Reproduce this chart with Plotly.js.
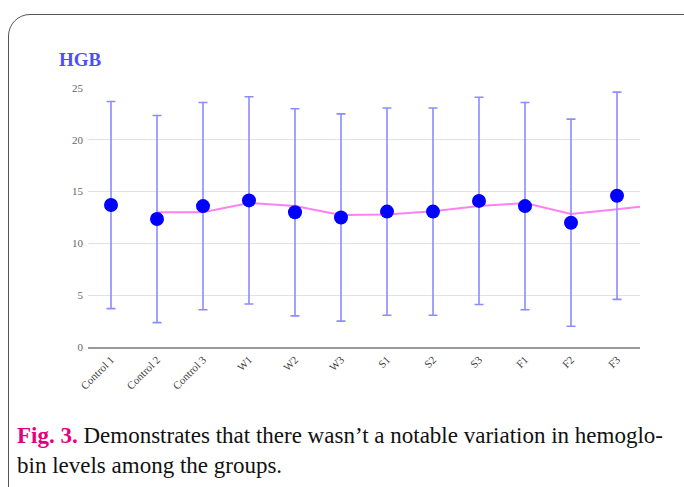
<!DOCTYPE html>
<html>
<head>
<meta charset="utf-8">
<script src="https://cdn.plot.ly/plotly-3.0.1.min.js"></script>
<style>
  html, body { margin: 0; padding: 0; width: 684px; height: 487px; overflow: hidden; background: #fff; }
  #frame { position: absolute; left: 8px; top: 14px; width: 700px; height: 500px;
           border: 1.5px solid #555; border-radius: 22px; box-sizing: border-box; }
  #chart { position: absolute; left: 0; top: 0; width: 684px; height: 487px; }
  #caption { position: absolute; left: 17px; top: 421px; width: 670px; white-space: nowrap;
             font-family: "Liberation Serif", monospace; font-size: 23px;
             line-height: 30px; color: #111; }
  #caption b { color: #e6007e; }
</style>
</head>
<body>
<div id="frame"></div>
<div id="chart"></div>
<div id="caption"><b>Fig. 3.</b> Demonstrates that there wasn’t a notable variation in hemoglo-<br>bin levels among the groups.</div>
<script>
const categories = ["Control 1", "Control 2", "Control 3", "W1", "W2", "W3", "S1", "S2", "S3", "F1", "F2", "F3"];
const hgbMeans = [13.7, 12.35, 13.6, 14.15, 13.0, 12.5, 13.07, 13.07, 14.1, 13.6, 12.0, 14.6];
const hgbErrors = [10, 10, 10, 10, 10, 10, 10, 10, 10, 10, 10, 10];
// moving-average trend line (starts at Control 2, runs to the right edge)
const trendX = [1, 2, 3, 4, 5, 6, 7, 8, 9, 10, 11, 11.5];
const trendValues = [13.0, 13.0, 13.9, 13.6, 12.75, 12.8, 13.1, 13.6, 13.9, 12.85, 13.3, 13.55];
const yTicks = [0, 5, 10, 15, 20, 25];

const xIdx = categories.map((c, i) => i);
const serif = '"Liberation Serif", "Times New Roman", Times, serif';

const traces = [
  {
    x: trendX, y: trendValues, type: 'scatter', mode: 'lines',
    line: { color: '#ff80f0', width: 2 }, hoverinfo: 'skip', showlegend: false
  },
  {
    x: xIdx, y: hgbMeans, type: 'scatter', mode: 'markers',
    marker: { color: '#0000ff', size: 14 },
    error_y: { type: 'data', array: hgbErrors, visible: true, color: '#8c8cff', thickness: 1.6, width: 4.5 },
    showlegend: false
  }
];

const layout = {
  width: 684, height: 487,
  paper_bgcolor: 'rgba(0,0,0,0)', plot_bgcolor: 'rgba(0,0,0,0)',
  margin: { l: 88, r: 44, t: 88, b: 139.5 },
  title: {
    text: '<b>HGB</b>', xref: 'container', yref: 'container',
    x: 59 / 684, xanchor: 'left', y: 1 - 59 / 487, yanchor: 'middle',
    font: { family: serif, size: 19, color: '#4d4dff' }
  },
  xaxis: {
    range: [-0.5, 11.5], tickmode: 'array', tickvals: xIdx, ticktext: categories,
    tickangle: -45, showgrid: false, zeroline: false,
    showline: true, linecolor: '#9a9a9a', linewidth: 2,
    ticks: '', tickfont: { family: serif, size: 11, color: '#444' }
  },
  yaxis: {
    range: [0, 25], tickmode: 'array', tickvals: yTicks,
    showgrid: true, gridcolor: '#e2e2e2', gridwidth: 1, zeroline: false,
    ticks: '', ticklabelstandoff: 4,
    tickfont: { family: serif, size: 11, color: '#666' }
  }
};

Plotly.newPlot('chart', traces, layout, { displayModeBar: false, staticPlot: true });
</script>
</body>
</html>
